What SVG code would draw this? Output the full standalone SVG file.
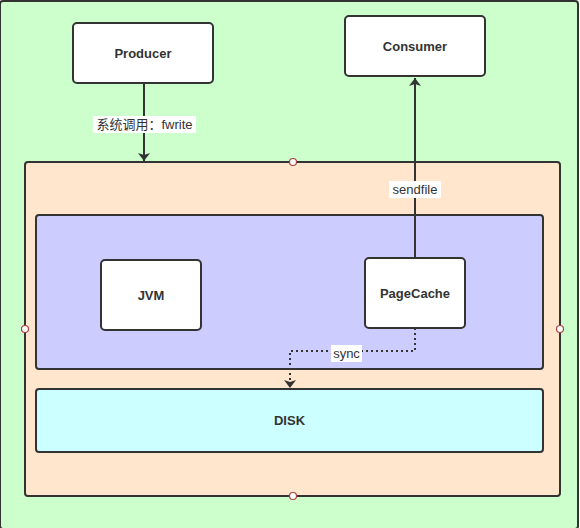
<svg xmlns="http://www.w3.org/2000/svg" width="580" height="528" viewBox="0 0 580 528">
<defs>
<style>
.box{stroke:#333;stroke-width:2}
.lbl{font-family:"Liberation Sans",Arial,sans-serif;font-size:13px;font-weight:bold;fill:#333;text-anchor:middle;dominant-baseline:central}
.elbl{font-family:"Liberation Sans","Noto Sans CJK SC",sans-serif;font-size:13px;fill:#333;text-anchor:middle;dominant-baseline:central}
.edge{fill:none;stroke:#333;stroke-width:2}
.pt{fill:#fff;stroke:#b04040;stroke-width:1.2}
</style>
<marker id="arr" viewBox="0 0 8 12" refX="8" refY="6" markerWidth="8" markerHeight="12" markerUnits="userSpaceOnUse" orient="auto">
<path d="M0,0 L8,6 L0,12 L2,6 Z" fill="#333"/>
</marker>
</defs>
<g id="background">
<rect x="0" y="1" width="578" height="528" rx="3" fill="#ccffcc" class="box"/>
</g>
<g id="server">
<rect x="25" y="162" width="535" height="334" rx="3" fill="#ffe6cc" class="box"/>
<circle cx="293" cy="162" r="3.5" class="pt"/>
<circle cx="25" cy="329" r="3.5" class="pt"/>
<circle cx="560" cy="329" r="3.5" class="pt"/>
<circle cx="293" cy="496" r="3.5" class="pt"/>
</g>
<g id="memory">
<rect x="36" y="215" width="507" height="154" rx="3" fill="#ccccff" class="box"/>
</g>
<g id="disk">
<rect x="36" y="389" width="507" height="63" rx="3" fill="#ccffff" class="box"/>
<text x="289.5" y="420.5" class="lbl">DISK</text>
</g>
<g id="producer">
<rect x="73" y="23" width="140" height="60" rx="4" fill="#fff" class="box"/>
<text x="143" y="53" class="lbl">Producer</text>
</g>
<g id="consumer">
<rect x="345" y="16" width="140" height="60" rx="4" fill="#fff" class="box"/>
<text x="415" y="46" class="lbl">Consumer</text>
</g>
<g id="jvm">
<rect x="101" y="260" width="100" height="70" rx="4" fill="#fff" class="box"/>
<text x="151" y="295" class="lbl">JVM</text>
</g>
<g id="pagecache">
<rect x="365" y="258" width="100" height="70" rx="4" fill="#fff" class="box"/>
<text x="415" y="293" class="lbl">PageCache</text>
</g>
<g id="connectors">
<path d="M144,83 L144,161" class="edge" marker-end="url(#arr)"/>
<rect x="93" y="116" width="103" height="17" fill="#fff"/>
<text x="144.5" y="124.5" class="elbl">系统调用：fwrite</text>
<path d="M415,258 L415,78" class="edge" marker-end="url(#arr)"/>
<rect x="389" y="181" width="52" height="17" fill="#fff"/>
<text x="415" y="189.5" class="elbl">sendfile</text>
<path d="M415,328 L415,351 L290,351 L290,388" class="edge" stroke-dasharray="2,3" marker-end="url(#arr)"/>
<rect x="331" y="345" width="31" height="17" fill="#fff"/>
<text x="346.5" y="353.5" class="elbl">sync</text>
</g>
</svg>
